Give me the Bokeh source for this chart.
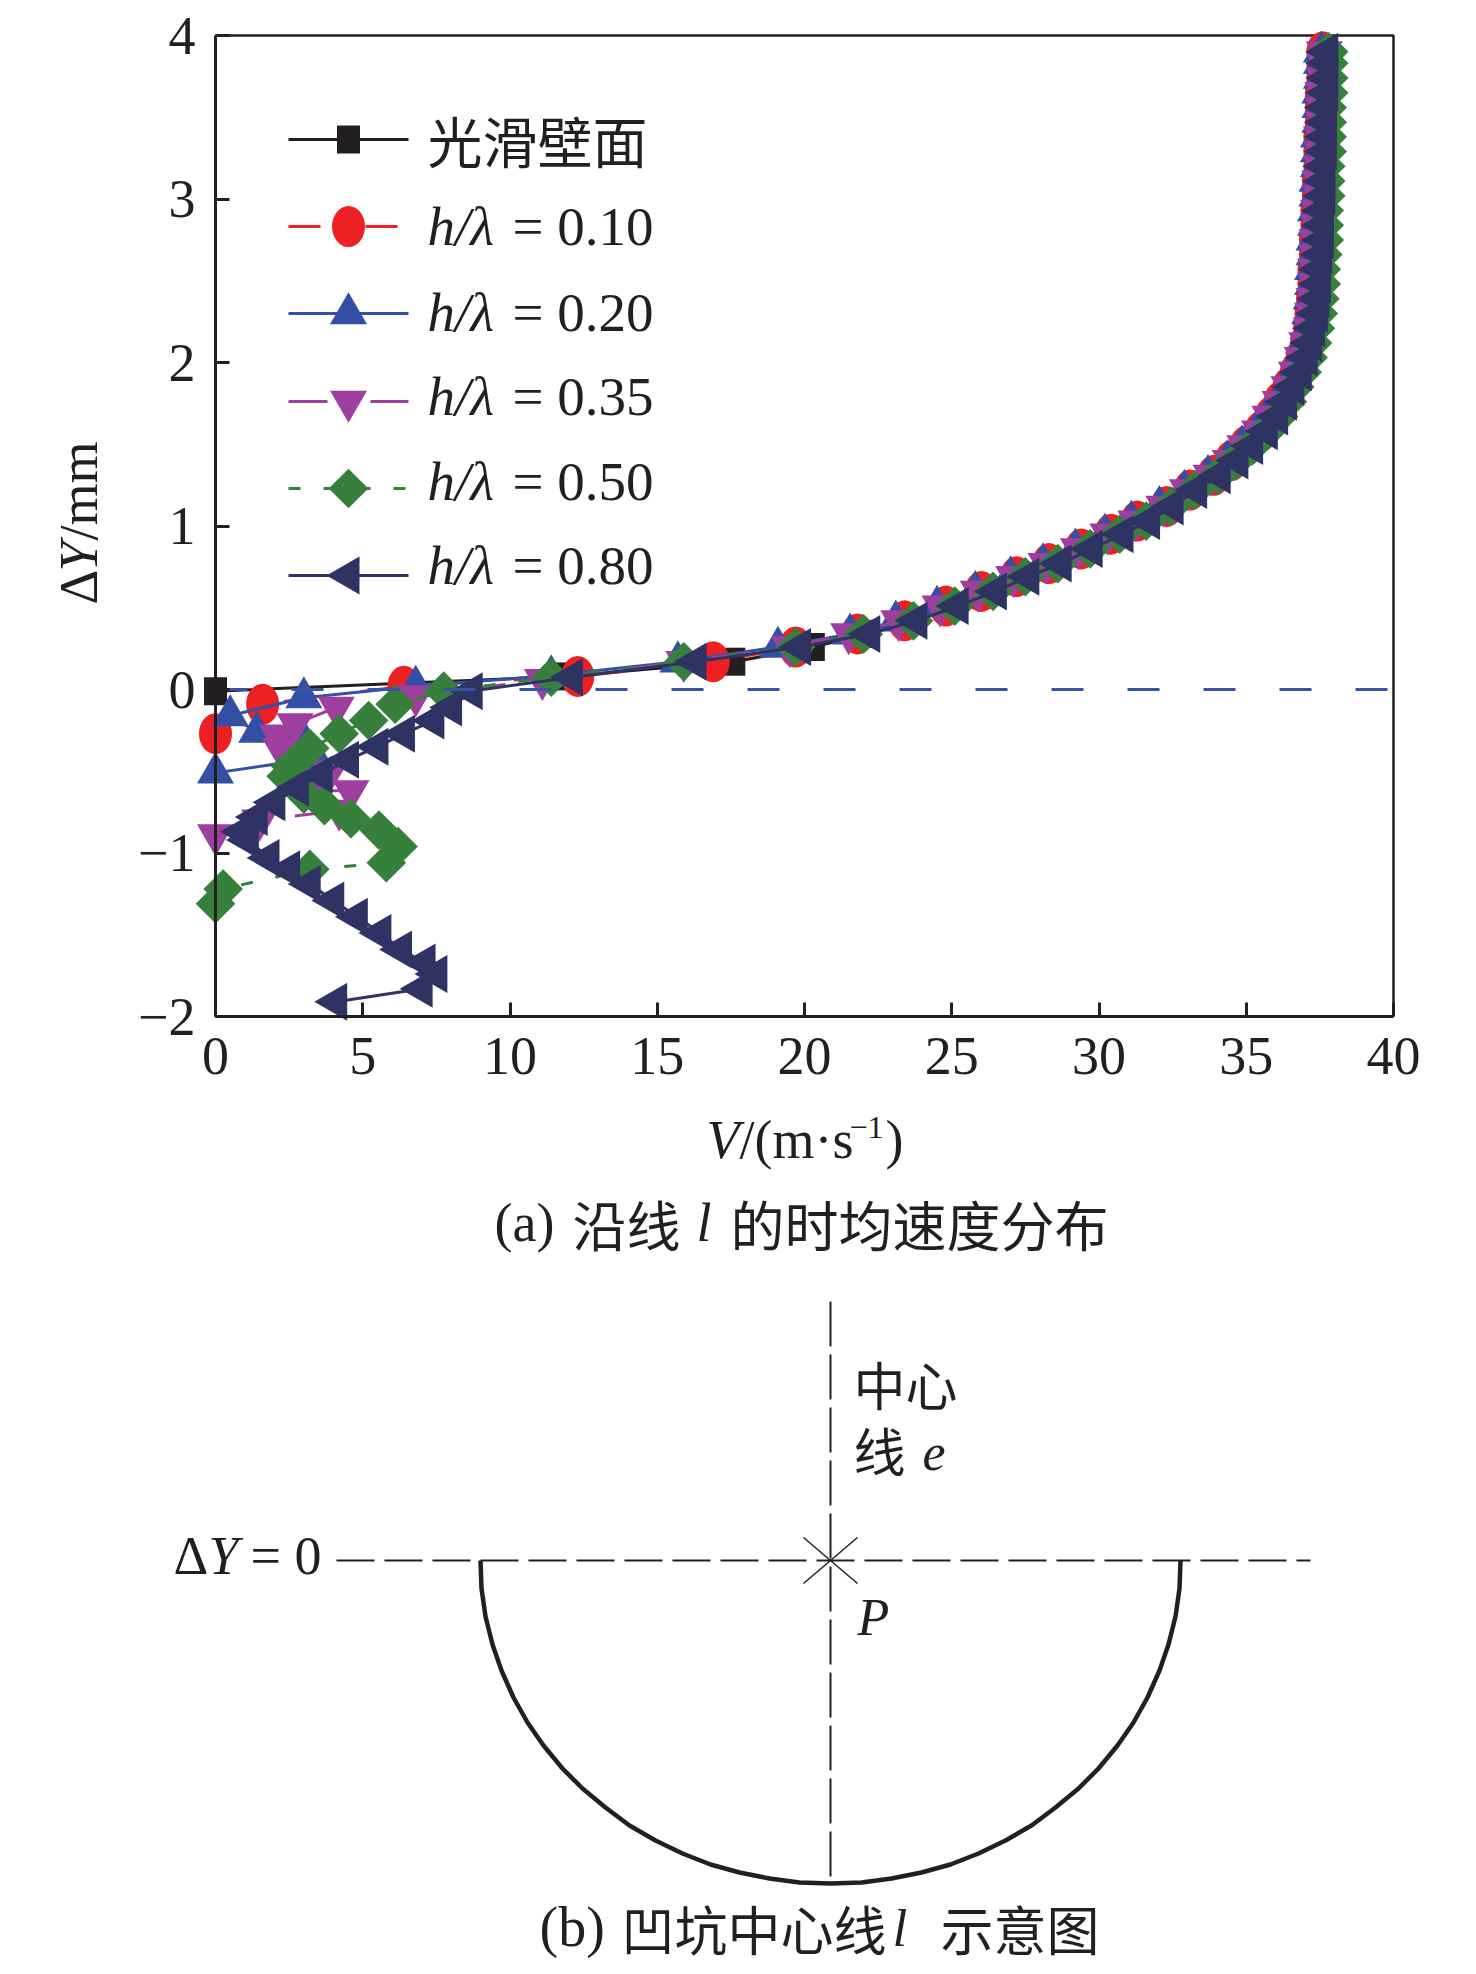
from math import pi
from bokeh.plotting import figure
from bokeh.models import Range1d, LinearAxis, FixedTicker
from bokeh.core.properties import value
from bokeh.embed import file_html
from bokeh.resources import INLINE

# ---------- data: time-averaged velocity along line l ----------
y_black = [-0.01, 0.08, 0.17, 0.26, 0.34, 0.42, 0.51, 0.60, 0.69, 0.77, 0.86, 0.95, 1.03, 1.12, 1.22, 1.31, 1.40, 1.49, 1.58, 1.67, 1.76, 1.85, 1.94, 2.03, 2.12, 2.21, 2.30, 2.39, 2.48, 2.57, 2.66, 2.75, 2.84, 2.93, 3.02, 3.11, 3.20, 3.29, 3.38, 3.47, 3.56, 3.65, 3.74, 3.83, 3.90]
v_black = [0.0, 11.8, 17.6, 20.3, 22.1, 23.6, 25.0, 26.2, 27.3, 28.4, 29.5, 30.5, 31.4, 32.3, 33.1, 33.9, 34.5, 35.05, 35.55, 35.9, 36.2, 36.5, 36.75, 36.95, 37.1, 37.2, 37.3, 37.3, 37.35, 37.35, 37.4, 37.4, 37.45, 37.45, 37.5, 37.5, 37.5, 37.55, 37.55, 37.55, 37.6, 37.6, 37.6, 37.65, 37.65]

upper_y = [0.17, 0.26, 0.34, 0.42, 0.51, 0.60, 0.69, 0.77, 0.86, 0.95, 1.03, 1.12, 1.22, 1.31, 1.40, 1.49, 1.58, 1.67, 1.76, 1.85, 1.94, 2.03, 2.12, 2.21, 2.30, 2.39, 2.48, 2.57, 2.66, 2.75, 2.84, 2.93, 3.02, 3.11, 3.20, 3.29, 3.38, 3.47, 3.56, 3.65, 3.74, 3.83, 3.90]

y_r010 = [-0.27, -0.09, 0.02, 0.08] + upper_y
v_r010 = [0.0, 1.6, 6.4, 12.3, 16.9, 19.7, 21.8, 23.4, 24.8, 26.0, 27.2, 28.3, 29.4, 30.4, 31.3, 32.3, 33.1, 33.9, 34.5, 35.0, 35.5, 35.85, 36.15, 36.45, 36.7, 36.9, 37.05, 37.15, 37.2, 37.25, 37.3, 37.3, 37.35, 37.35, 37.4, 37.4, 37.45, 37.45, 37.5, 37.5, 37.5, 37.55, 37.55, 37.55, 37.6, 37.6, 37.6]

y_r020 = [-0.51, -0.42, -0.28, -0.26, -0.16, -0.05, 0.02, 0.085] + upper_y
v_r020 = [0.0, 3.4, 2.9, 1.4, 0.5, 3.0, 6.8, 11.4, 15.7, 19.1, 21.55, 23.1, 24.5, 25.8, 27.0, 28.1, 29.2, 30.2, 31.1, 32.05, 32.9, 33.7, 34.35, 34.85, 35.35, 35.7, 36.05, 36.35, 36.6, 36.8, 36.95, 37.1, 37.15, 37.2, 37.25, 37.25, 37.3, 37.3, 37.35, 37.35, 37.4, 37.4, 37.45, 37.45, 37.45, 37.5, 37.5, 37.5, 37.55, 37.55, 37.55]

y_r035 = [-0.89, -0.80, -0.74, -0.62, -0.62, -0.50, -0.36, -0.28, -0.21, -0.11, -0.04, 0.06] + upper_y
v_r035 = [0.0, 1.5, 4.2, 3.3, 4.6, 3.9, 2.2, 2.1, 2.7, 4.1, 6.8, 11.1, 15.9, 19.5, 21.5, 23.2, 24.6, 25.9, 27.1, 28.2, 29.3, 30.3, 31.25, 32.2, 33.0, 33.8, 34.45, 34.95, 35.45, 35.8, 36.15, 36.45, 36.7, 36.9, 37.05, 37.2, 37.25, 37.3, 37.35, 37.35, 37.4, 37.4, 37.45, 37.45, 37.5, 37.5, 37.55, 37.55, 37.55, 37.6, 37.6, 37.6, 37.65, 37.65, 37.65]

y_r050 = [-1.31, -1.22, -1.10, -1.06, -0.96, -0.86, -0.79, -0.71, -0.64, -0.53, -0.47, -0.36, -0.27, -0.19, -0.09, -0.01, 0.075] + upper_y
v_r050 = [0.0, 0.26, 3.2, 5.8, 6.2, 5.55, 4.6, 3.7, 3.0, 2.4, 2.55, 3.2, 4.2, 5.2, 6.1, 7.75, 11.4, 15.9, 19.7, 22.0, 23.7, 25.1, 26.4, 27.5, 28.6, 29.7, 30.7, 31.6, 32.45, 33.25, 34.05, 34.65, 35.2, 35.7, 36.1, 36.4, 36.65, 36.9, 37.1, 37.25, 37.35, 37.45, 37.5, 37.55, 37.55, 37.6, 37.65, 37.65, 37.65, 37.7, 37.7, 37.7, 37.75, 37.75, 37.75, 37.75, 37.8, 37.8, 37.8, 37.8]

y_r080 = [-1.91, -1.83, -1.74, -1.67, -1.59, -1.49, -1.39, -1.29, -1.19, -1.10, -1.03, -0.92, -0.87, -0.78, -0.69, -0.60, -0.52, -0.43, -0.35, -0.27, -0.19, -0.11, -0.01, 0.075] + upper_y
v_r080 = [4.1, 7.0, 7.5, 7.1, 6.3, 5.6, 4.8, 4.0, 3.2, 2.5, 1.8, 1.1, 0.9, 1.4, 2.0, 2.8, 3.6, 4.5, 5.5, 6.4, 7.4, 8.0, 8.7, 12.1, 16.3, 19.85, 22.2, 23.8, 25.2, 26.5, 27.6, 28.7, 29.75, 30.8, 31.7, 32.5, 33.3, 34.1, 34.7, 35.2, 35.7, 36.05, 36.35, 36.6, 36.85, 37.05, 37.2, 37.3, 37.4, 37.45, 37.5, 37.5, 37.55, 37.6, 37.6, 37.6, 37.65, 37.65, 37.65, 37.7, 37.7, 37.7, 37.7, 37.75, 37.75, 37.75, 37.75]

legend_labels = ["光滑壁面", "= 0.10", "= 0.20", "= 0.35", "= 0.50", "= 0.80"]
x_ticks = [0, 5, 10, 15, 20, 25, 30, 35, 40]
y_ticks = [-2, -1, 0, 1, 2, 3, 4]

# ---------- data: sketch of the pit centre line (panel b, page pixels) ----------
arc_x = [480, 481, 485, 492, 501, 513, 527, 543, 562, 582, 605, 629, 655, 682, 710, 739, 769, 799, 830, 861, 891, 921, 950, 978, 1005, 1031, 1055, 1078, 1098, 1117, 1133, 1147, 1159, 1168, 1175, 1179, 1180]
arc_y = [1560, 1588, 1616, 1644, 1670, 1697, 1722, 1745, 1768, 1788, 1807, 1825, 1840, 1853, 1864, 1872, 1878, 1882, 1883, 1882, 1878, 1872, 1864, 1853, 1840, 1825, 1807, 1788, 1768, 1745, 1722, 1697, 1670, 1644, 1616, 1588, 1560]

BLACK, RED, BLUE, PURPLE, GREEN, NAVY = "#231f20", "#ed2024", "#3350a6", "#9e3fa0", "#37803c", "#2f3364"
SERIF = "Liberation Serif"
CJK = "Noto Sans CJK SC"

# page geometry: the frame fills the figure; the chart's axes sit at fixed places in it
PAGE_X0, PAGE_Y0, W, H = 0, 0, 1460, 1966
L, R, T, B = 215, 1393, 35, 1016
XU = (R - L) / 40.0
YU = (B - T) / 6.0

p = figure(width=W, height=H,
           x_range=Range1d((PAGE_X0 - L) / XU, (PAGE_X0 + W - L) / XU),
           y_range=Range1d(4 - (PAGE_Y0 + H - T) / YU, 4 - (PAGE_Y0 - T) / YU),
           x_axis_type=None, y_axis_type=None,
           output_backend="svg", toolbar_location=None, min_border=0)
p.frame_width = W
p.frame_height = H
p.grid.visible = False
p.outline_line_color = None
p.extra_x_ranges["page"] = Range1d(PAGE_X0, PAGE_X0 + W)
p.extra_y_ranges["page"] = Range1d(PAGE_Y0 + H, PAGE_Y0)

xax = LinearAxis(ticker=FixedTicker(ticks=x_ticks), fixed_location=-2, bounds=(0, 40))
yax = LinearAxis(ticker=FixedTicker(ticks=y_ticks), fixed_location=0, bounds=(-2, 4),
                 major_label_overrides={-2: "−2", -1: "−1"})
for ax in (xax, yax):
    ax.major_label_text_font = SERIF
    ax.major_label_text_font_size = "54px"
    ax.major_label_text_color = BLACK
    ax.axis_line_color = BLACK
    ax.axis_line_width = 3
    ax.major_tick_line_color = BLACK
    ax.major_tick_line_width = 3
    ax.major_tick_in = 14
    ax.major_tick_out = 0
    ax.minor_tick_in = 0
    ax.minor_tick_out = 0
xax.major_label_standoff = 21
yax.major_label_standoff = 20
yax.major_label_orientation = "horizontal"
p.add_layout(xax, "below")
p.add_layout(yax, "left")
p.line([0, 40, 40], [4, 4, -2], line_color=BLACK, line_width=2.5)

MARKS = {
    "triangle": dict(marker="triangle", size=37),
    "inverted_triangle": dict(marker="inverted_triangle", size=37),
    "diamond": dict(marker="square", size=28, angle=pi / 4),
    "left": dict(marker="triangle", size=38, angle=pi / 2),
}

def draw_marker(v, y, color, marker, **kw):
    if marker == "ellipse":
        p.ellipse(v, y, width=33, height=41, width_units="screen", height_units="screen",
                  fill_color=color, line_color=color, line_width=0, **kw)
    elif marker == "rect":
        p.rect(v, y, width=23, height=28, width_units="screen", height_units="screen",
               fill_color=color, line_color=color, line_width=0, **kw)
    else:
        p.scatter(v, y, fill_color=color, line_color=color, line_width=0, **MARKS[marker], **kw)

def series(v, y, color, marker, dash):
    p.line(v, y, line_color=color, line_width=3, line_dash=dash)
    draw_marker(v, y, color, marker)

series(v_black, y_black, BLACK, "rect", "solid")
series(v_r010, y_r010, RED, "ellipse", "32 45")
series(v_r020, y_r020, BLUE, "triangle", "solid")
series(v_r035, y_r035, PURPLE, "inverted_triangle", "39 43")
series(v_r050, y_r050, GREEN, "diamond", "12 23")
series(v_r080, y_r080, NAVY, "left", "solid")

# dashed reference line at delta-Y = 0
p.line([0, 39.8], [0, 0], line_color="#3953a4", line_width=3, line_dash="32 44")

PG = dict(x_range_name="page", y_range_name="page")

def text(px, py, s, font=SERIF, size=50, style="normal", angle=0.0):
    # the renderer sets "alphabetic" text about 0.41 em past the anchor; compensate
    if angle:
        px = px - 0.41 * size
    else:
        py = py - 0.41 * size
    p.text([px], [py], text=[s], text_font=value(font), text_font_size=f"{size}px",
           text_font_style=style, text_color=BLACK, angle=angle,
           text_baseline="alphabetic", text_align="left", **PG)

# legend
legend_rows = [139, 226, 313, 401, 488, 575]
legend_base = [161, 249, 335, 419, 504, 588]
styles = [("solid", BLACK, "rect"), ("32 45", RED, "ellipse"), ("solid", BLUE, "triangle"),
          ("39 43", PURPLE, "inverted_triangle"), ("12 23", GREEN, "diamond"), ("solid", NAVY, "left")]
for i, (ry, by, lab, st) in enumerate(zip(legend_rows, legend_base, legend_labels, styles)):
    p.line([288, 408], [ry, ry], line_color=st[1], line_width=3, line_dash=st[0], **PG)
    draw_marker([348], [ry], st[1], st[2], **PG)
    if i == 0:
        text(427, by, lab, font=CJK, size=55)
    else:
        text(427, by, "h/λ", size=55, style="italic")
        text(512, by, lab, size=55)

# axis titles
text(101, 604, "Δ", size=54, angle=pi / 2)
text(101, 571, "Y", size=54, style="italic", angle=pi / 2)
text(101, 540, "/mm", size=54, angle=pi / 2)
text(706, 1162, "V", size=54, style="italic")
text(739, 1162, "/(m·s", size=54)
text(849, 1140, "−1", size=32)
text(885, 1162, ")", size=54)

# caption (a)
text(494, 1245, "(a)", size=54)
text(572, 1245, "沿线", font=CJK, size=54)
text(696, 1245, "l", size=54, style="italic")
text(730, 1245, "的时均速度分布", font=CJK, size=54)

# panel (b)
p.line([830, 830], [1301, 1882], line_color=BLACK, line_width=2, line_dash="45 8", **PG)
p.line([336, 1310], [1560, 1560], line_color=BLACK, line_width=2, line_dash="38 10", **PG)
p.line([803, 857], [1537, 1583], line_color=BLACK, line_width=1.5, **PG)
p.line([803, 857], [1583, 1537], line_color=BLACK, line_width=1.5, **PG)
p.line(arc_x, arc_y, line_color=BLACK, line_width=4.5, **PG)

text(853, 1404, "中心", font=CJK, size=52)
text(853, 1470, "线", font=CJK, size=52)
text(922, 1473, "e", size=52, style="italic")
text(173, 1578, "Δ", size=54)
text(208, 1578, "Y", size=54, style="italic")
text(250, 1578, "= 0", size=54)
text(857, 1638, "P", size=52, style="italic")
text(539, 1949, "(b)", size=56)
text(621, 1949, "凹坑中心线", font=CJK, size=53)
text(892, 1949, "l", size=53, style="italic")
text(940, 1949, "示意图", font=CJK, size=53)

open("out.html", "w").write(file_html(p, INLINE))
